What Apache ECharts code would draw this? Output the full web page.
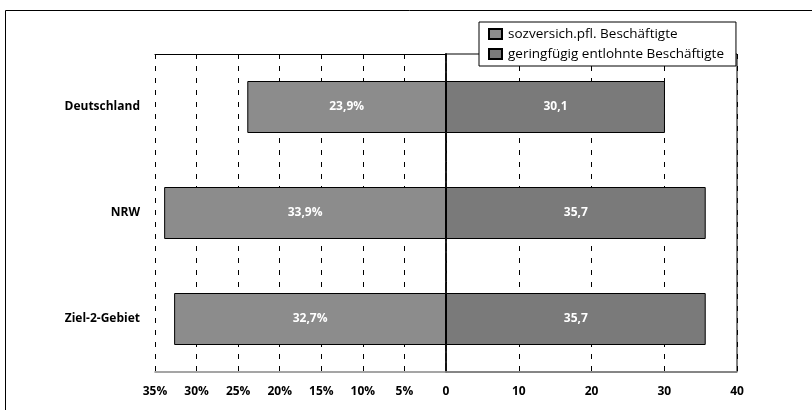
<!DOCTYPE html>
<html><head><meta charset="utf-8">
<script src="https://cdn.jsdelivr.net/npm/echarts@6/dist/echarts.min.js"></script>
<style>html,body{margin:0;padding:0;background:#fff}#c{width:812px;height:410px}</style>
</head><body><div id="c"></div>
<script>
const categories = ['Deutschland', 'NRW', 'Ziel-2-Gebiet'];
const seriesNames = ['sozversich.pfl. Beschäftigte', 'geringfügig entlohnte Beschäftigte'];
const sozversich = [23.9, 33.9, 32.7];
const geringfuegig = [30.1, 35.7, 35.7];
const leftTicks = [0, 5, 10, 15, 20, 25, 30, 35];
const rightTicks = [0, 10, 20, 30, 40];

const FONT = '"Open Sans", "DejaVu Sans", sans-serif';
const chart = echarts.init(document.getElementById('c'), null, {renderer: 'canvas'});
const fmtComma = v => v.toFixed(1).replace('.', ',');
const dash = {color: '#000', type: [5, 7], width: 1};

chart.setOption({
  animation: false,
  textStyle: {fontFamily: FONT},
  graphic: [{
    type: 'rect', left: 3, top: 8, silent: true,
    shape: {x: 0, y: 0, width: 830, height: 430},
    style: {fill: 'none', stroke: '#000', lineWidth: 1}
  }],
  legend: {
    orient: 'vertical', left: 479, top: 22,
    padding: [5, 12, 5, 9],
    itemGap: 6,
    itemWidth: 13, itemHeight: 10,
    backgroundColor: '#fff', borderColor: '#000', borderWidth: 1,
    textStyle: {fontFamily: FONT, fontSize: 13.5, color: '#000', padding: [0, 0, 0, 1]},
    data: seriesNames.map(n => ({name: n, icon: 'rect'}))
  },
  grid: [
    {left: 155, right: 366, top: 54, bottom: 38, show: false},
    {left: 446, right: 75, top: 54, bottom: 38, show: true, borderColor: '#000', borderWidth: 1}
  ],
  xAxis: [
    {
      gridIndex: 0, type: 'value', inverse: true, min: 0, max: 35, interval: 5,
      axisLine: {show: true, lineStyle: {color: '#888', width: 1.5}},
      axisTick: {show: false},
      axisLabel: {
        formatter: v => (v === 0 ? '' : v + '%'),
        fontFamily: FONT, fontWeight: 'bold', fontSize: 12, color: '#000', margin: 14
      },
      splitLine: {show: true, lineStyle: dash}
    },
    {
      gridIndex: 1, type: 'value', min: 0, max: 40, interval: 10,
      axisLine: {show: true, lineStyle: {color: '#888', width: 1.5}},
      axisTick: {show: false},
      axisLabel: {fontFamily: FONT, fontWeight: 'bold', fontSize: 12, color: '#000', margin: 14},
      splitLine: {show: true, lineStyle: dash}
    },
    {
      gridIndex: 0, type: 'value', position: 'top', inverse: true, min: 0, max: 35,
      axisLine: {show: true, lineStyle: {color: '#000', width: 1}},
      axisTick: {show: false}, axisLabel: {show: false}, splitLine: {show: false}
    }
  ],
  yAxis: [
    {
      gridIndex: 0, type: 'category', data: categories, inverse: true,
      axisLine: {show: true, lineStyle: {color: '#444', width: 2, type: [6, 4]}},
      axisTick: {show: false},
      axisLabel: {fontFamily: FONT, fontWeight: 'bold', fontSize: 12, color: '#000', margin: 15}
    },
    {
      gridIndex: 1, type: 'category', data: categories, inverse: true,
      axisLine: {show: true, lineStyle: {color: '#000', width: 1.5}},
      axisTick: {show: false}, axisLabel: {show: false}
    }
  ],
  series: [
    {
      name: seriesNames[0], type: 'bar', xAxisIndex: 0, yAxisIndex: 0,
      data: sozversich, barWidth: 52,
      itemStyle: {color: '#8c8c8c', borderColor: '#000', borderWidth: 1},
      label: {show: true, position: 'inside', formatter: p => fmtComma(p.value) + '%',
        color: '#fff', fontWeight: 'bold', fontSize: 12, fontFamily: FONT}
    },
    {
      name: seriesNames[1], type: 'bar', xAxisIndex: 1, yAxisIndex: 1,
      data: geringfuegig, barWidth: 52,
      itemStyle: {color: '#7a7a7a', borderColor: '#000', borderWidth: 1},
      label: {show: true, position: 'inside', formatter: p => fmtComma(p.value),
        color: '#fff', fontWeight: 'bold', fontSize: 12, fontFamily: FONT}
    }
  ]
});
</script></body></html>
